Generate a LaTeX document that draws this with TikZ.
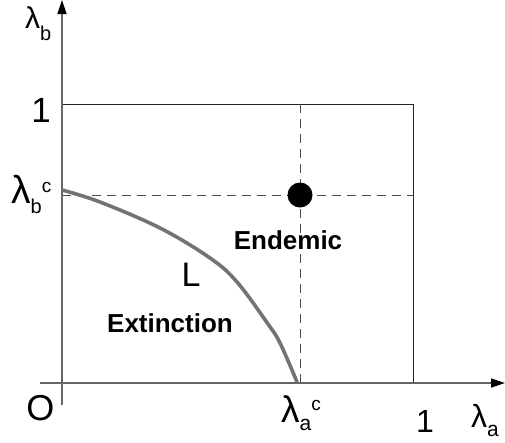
\documentclass[tikz,border=0pt]{standalone}
\usepackage{fontspec}
\setmainfont{Liberation Sans}
\usetikzlibrary{arrows.meta}
\newcommand{\fsz}[1]{\fontsize{#1}{#1}\selectfont}
% #1 lambda size, #2 sub size, #3 sub letter, #4 drop
\newcommand{\lamsub}[4]{{\fsz{#1}λ\raisebox{-#4}{\fsz{#2}#3}}}
\begin{document}
\begin{tikzpicture}[x=1pt,y=-1pt,
  axis/.style={draw=black!60,line width=1.4pt,-{Triangle[length=14pt,width=9pt,color=black]}},
  boxline/.style={draw=black!85,line width=0.9pt},
  dashline/.style={draw=black!70,line width=0.9pt,dash pattern=on 9pt off 6pt},
  curve/.style={draw=black!55,line width=3.6pt},
  lbl/.style={inner sep=0pt,anchor=center},
  lam/.style={inner sep=0pt,anchor=base west},
  region/.style={inner sep=0pt,font=\fsz{26}\bfseries}]
\useasboundingbox (0,0) rectangle (505,442);
% key points
\coordinate (O) at (62,383);
\coordinate (xs) at (40,383);
\coordinate (xe) at (505,383);
\coordinate (ys) at (62,405);
\coordinate (ye) at (62,0);
\coordinate (b1) at (62,104);
\coordinate (c1) at (413,104);
\coordinate (c2) at (413,383);
\coordinate (hb) at (62,195);
\coordinate (he) at (413,195);
\coordinate (vt) at (300,104);
\coordinate (vb) at (300,383);
% box
\draw[boxline] (b1) -- (c1) -- (c2);
% dashed
\draw[dashline] (hb) -- (he);
\draw[dashline] (vt) -- (vb);
% axes
\draw[axis] (xs) -- (xe);
\draw[axis] (ys) -- (ye);
% curve L
\draw[curve] plot[smooth,tension=0.6] coordinates {(62,190) (100,202) (160,228) (210,258) (237,282) (268,324) (280,343) (297,382)};
% equilibrium point
\fill[black] (300,195) circle (12.5pt);
\node[lbl] (dot) at (300,195) {};
% labels
\node[lam] (lb) at (25,28) {\lamsub{30}{20}{b}{12pt}};
\node[lbl] (one1) at (41,110.5) {\fsz{35}1};
\node[lam] (lbc) at (11,203) {\lamsub{39}{20}{b}{10pt}\raisebox{11pt}{\fsz{19}c}};
\node[lbl] (o) at (40.5,408.5) {\fsz{36}O};
\node[lam] (lac) at (281,422) {\lamsub{37}{21}{a}{8pt}\raisebox{12pt}{\fsz{19}c}};
\node[lbl] (one2) at (425,421) {\fsz{32}1};
\node[lam] (la) at (471,427) {\lamsub{32}{21}{a}{9pt}};
\node[region] (endemic) at (288,240) {Endemic};
\node[lbl] (L) at (191,275) {\fsz{34}L};
\node[region] (extinction) at (170,323) {Extinction};
\end{tikzpicture}
\end{document}
